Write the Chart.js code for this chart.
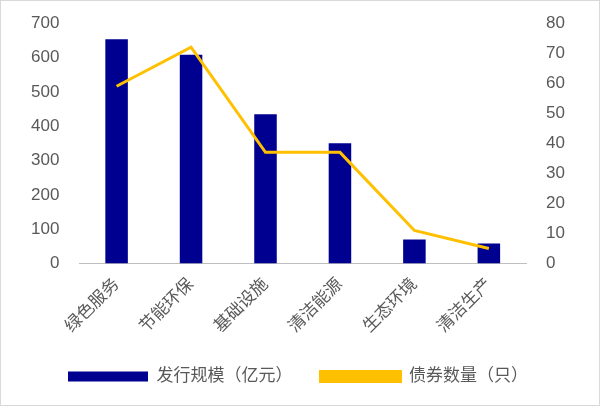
<!DOCTYPE html>
<html><head><meta charset="utf-8">
<script src="https://cdn.jsdelivr.net/npm/chart.js@4"></script>
<style>html,body{margin:0;padding:0;background:#fff}#w{width:600px;height:406px;box-sizing:border-box;border:1px solid #d9d9d9}</style>
</head><body><div id="w"><canvas id="c"></canvas></div>
<script>
const categories=["绿色服务","节能环保","基础设施","清洁能源","生态环境","清洁生产"];
const scaleValues=[653,608,435,350,70,58];
const bondCounts=[59,72,37,37,11,5];
const font={family:"'Liberation Sans','Noto Sans CJK SC',sans-serif",size:17};
Chart.defaults.color="#595959";
new Chart(document.getElementById('c'),{
 data:{labels:categories,datasets:[
  {type:'line',label:'债券数量（只）',data:bondCounts,yAxisID:'y1',borderColor:'#FFC000',backgroundColor:'#FFC000',borderWidth:3,pointRadius:0,tension:0},
  {type:'bar',label:'发行规模（亿元）',data:scaleValues,yAxisID:'y',backgroundColor:'#000090',categoryPercentage:0.55,barPercentage:0.55}
 ]},
 options:{responsive:true,maintainAspectRatio:false,animation:false,
  layout:{padding:{left:18,right:22,top:12,bottom:10}},
  plugins:{legend:{position:'bottom',reverse:true,labels:{font:font,boxWidth:80,boxHeight:10,padding:28,color:'#595959'}},tooltip:{enabled:false}},
  scales:{
   x:{grid:{display:false},border:{color:'#bfbfbf'},ticks:{font:font,maxRotation:45,minRotation:45,color:'#595959'}},
   y:{position:'left',min:0,max:700,ticks:{stepSize:100,font:font,color:'#595959',padding:12},grid:{display:false},border:{display:false}},
   y1:{position:'right',min:0,max:80,ticks:{stepSize:10,font:font,color:'#595959',padding:12},grid:{display:false},border:{display:false}}
  }}
});
</script></body></html>
